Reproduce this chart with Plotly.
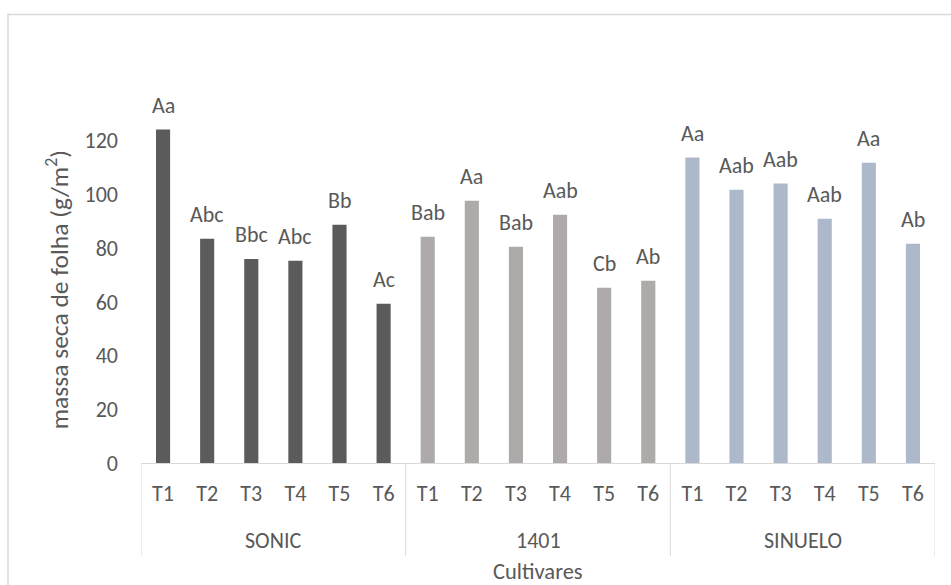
import plotly.graph_objects as go

# Leaf dry mass (g/m²) per treatment for each cultivar, with significance letters
cultivars = ["SONIC", "1401", "SINUELO"]
treatments = ["T1", "T2", "T3", "T4", "T5", "T6"]

sonic = [124.1, 83.5, 75.9, 75.3, 88.7, 59.3]
c1401 = [84.2, 97.6, 80.5, 92.4, 65.2, 67.8]
sinuelo = [113.7, 101.7, 104.0, 90.9, 111.8, 81.6]

sonic_letters = ["Aa", "Abc", "Bbc", "Abc", "Bb", "Ac"]
c1401_letters = ["Bab", "Aa", "Bab", "Aab", "Cb", "Ab"]
sinuelo_letters = ["Aa", "Aab", "Aab", "Aab", "Aa", "Ab"]

y_ticks = [0, 20, 40, 60, 80, 100, 120]

colors = ["#5b5b5b", "#aeaaaa", "#adb9ca"]
series = [sonic, c1401, sinuelo]
letters = [sonic_letters, c1401_letters, sinuelo_letters]

FONT = "Carlito, Calibri, Lato, sans-serif"
TXT = "#595959"
LINE = "#d9d9d9"
FS = 22

n = len(treatments)
fig = go.Figure()
for g, (name, vals, labs, col) in enumerate(zip(cultivars, series, letters, colors)):
    xs = [g * n + i for i in range(n)]
    fig.add_trace(go.Bar(
        x=xs, y=vals, name=name, width=0.32,
        marker=dict(color=col, line=dict(width=0)),
        showlegend=False,
    ))
    # significance letters above each bar
    for x, v, lab in zip(xs, vals, labs):
        fig.add_annotation(
            x=x, y=v, xref="x", yref="y", text=lab, showarrow=False,
            yanchor="bottom", yshift=9,
            font=dict(family=FONT, size=FS, color=TXT),
        )

total = n * len(cultivars)
fig.update_layout(
    width=951, height=585,
    margin=dict(l=141, r=16, t=60, b=122),
    paper_bgcolor="white", plot_bgcolor="white",
    font=dict(family=FONT, color=TXT),
    xaxis=dict(
        range=[-0.5, total - 0.5],
        tickvals=list(range(total)),
        ticktext=treatments * len(cultivars),
        tickfont=dict(family=FONT, size=FS, color=TXT),
        showline=True, linecolor=LINE, linewidth=1,
        showgrid=False, zeroline=False, ticks="",
        ticklabelstandoff=11,
    ),
    yaxis=dict(
        range=[0, 150],
        tickvals=y_ticks,
        tickfont=dict(family=FONT, size=FS, color=TXT),
        showline=False, showgrid=False, zeroline=False, ticks="",
        ticklabelstandoff=22,
    ),
)

# Cultivar group labels and dividers under the treatment labels
for g, name in enumerate(cultivars):
    fig.add_annotation(
        x=g * n + (n - 1) / 2, y=-0.192, xref="x", yref="paper",
        text=name, showarrow=False, yanchor="middle",
        font=dict(family=FONT, size=FS, color=TXT),
    )
for g in range(len(cultivars) + 1):
    fig.add_shape(
        type="line", xref="x", yref="paper",
        x0=g * n - 0.5, x1=g * n - 0.5, y0=0, y1=-0.231,
        line=dict(color=LINE, width=1),
    )

# Axis titles
fig.add_annotation(
    x=0.5, y=-0.27, xref="paper", yref="paper",
    text="Cultivares", showarrow=False, yanchor="middle",
    font=dict(family=FONT, size=22.5, color=TXT),
)
fig.add_annotation(
    x=-0.105, y=0.43, xref="paper", yref="paper",
    text="massa seca de folha (g/m<sup>2</sup>)", textangle=-90,
    showarrow=False, xanchor="center", yanchor="middle",
    font=dict(family=FONT, size=25.5, color=TXT),
)

# Chart frame
fig.add_shape(
    type="rect", xref="paper", yref="paper",
    x0=-0.1675, x1=1.1, y0=-0.35, y1=1.113,
    line=dict(color=LINE, width=1.5), layer="below",
)

fig.write_html("out.html")
